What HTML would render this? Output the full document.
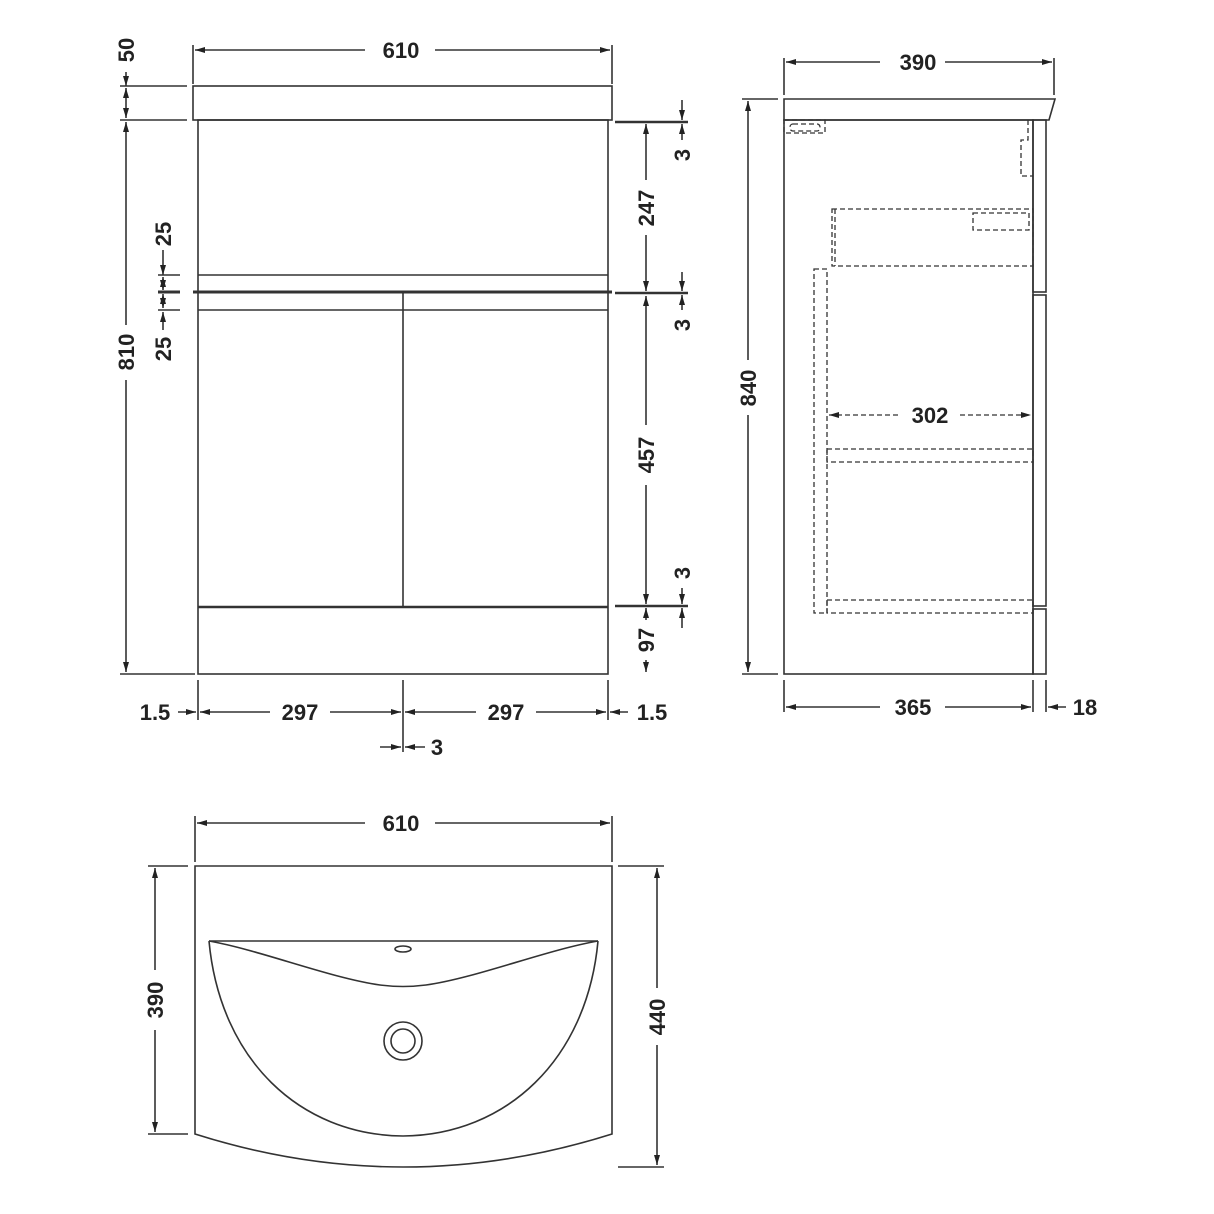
<!DOCTYPE html>
<html><head><meta charset="utf-8"><style>html,body{margin:0;padding:0;background:#fff}svg{display:block}text{font-family:"Liberation Sans",sans-serif;font-weight:bold;font-size:22px;fill:#222}</style></head>
<body>
<svg width="1214" height="1214" viewBox="0 0 1214 1214" xmlns="http://www.w3.org/2000/svg">
<defs>
<marker id="a" viewBox="0 0 10 6" refX="10" refY="3" markerWidth="10" markerHeight="6" orient="auto-start-reverse" markerUnits="userSpaceOnUse"><path d="M0,0L10,3L0,6z" fill="#222"/></marker>
</defs>
<g stroke="#333" stroke-width="1.6" fill="none">
<!-- front view -->
<rect x="193" y="86" width="419" height="34"/>
<rect x="198" y="120" width="410" height="554"/>
<line x1="198" y1="275" x2="608" y2="275"/>
<line x1="193" y1="292" x2="612" y2="292" stroke-width="3"/>
<line x1="198" y1="310" x2="608" y2="310"/>
<line x1="403" y1="293" x2="403" y2="607"/>
<line x1="198" y1="607" x2="608" y2="607" stroke-width="2.5"/>
<!-- front dims -->
<line x1="193" y1="45" x2="193" y2="84"/><line x1="612" y1="45" x2="612" y2="84"/>
<line x1="195" y1="50" x2="365" y2="50" marker-start="url(#a)"/><line x1="435" y1="50" x2="610" y2="50" marker-end="url(#a)"/>
<line x1="120" y1="86" x2="187" y2="86"/><line x1="120" y1="120" x2="187" y2="120"/><line x1="120" y1="674" x2="195" y2="674"/>
<line x1="126" y1="72" x2="126" y2="86" marker-end="url(#a)"/><line x1="126" y1="88" x2="126" y2="118" marker-start="url(#a)" marker-end="url(#a)"/>
<line x1="126" y1="122" x2="126" y2="325" marker-start="url(#a)"/><line x1="126" y1="380" x2="126" y2="672" marker-end="url(#a)"/>
<line x1="158" y1="275" x2="180" y2="275"/><line x1="158" y1="292" x2="180" y2="292" stroke-width="3"/><line x1="158" y1="310" x2="180" y2="310"/>
<line x1="163" y1="250" x2="163" y2="275" marker-end="url(#a)"/><line x1="163" y1="277" x2="163" y2="290" marker-start="url(#a)" marker-end="url(#a)"/><line x1="163" y1="294" x2="163" y2="308" marker-start="url(#a)" marker-end="url(#a)"/><line x1="163" y1="312" x2="163" y2="330" marker-start="url(#a)"/>
<line x1="615" y1="122" x2="688" y2="122" stroke-width="2.5"/><line x1="615" y1="293" x2="688" y2="293" stroke-width="2.5"/><line x1="615" y1="606" x2="688" y2="606" stroke-width="2.5"/>
<line x1="646" y1="124" x2="646" y2="180" marker-start="url(#a)"/><line x1="646" y1="235" x2="646" y2="291" marker-end="url(#a)"/>
<line x1="646" y1="296" x2="646" y2="425" marker-start="url(#a)"/><line x1="646" y1="485" x2="646" y2="604" marker-end="url(#a)"/>
<line x1="646" y1="608" x2="646" y2="620" marker-start="url(#a)"/><line x1="646" y1="660" x2="646" y2="672" marker-end="url(#a)"/>
<line x1="682" y1="100" x2="682" y2="120" marker-end="url(#a)"/><line x1="682" y1="124" x2="682" y2="140" marker-start="url(#a)"/>
<line x1="682" y1="272" x2="682" y2="291" marker-end="url(#a)"/><line x1="682" y1="295" x2="682" y2="310" marker-start="url(#a)"/>
<line x1="682" y1="588" x2="682" y2="604" marker-end="url(#a)"/><line x1="682" y1="608" x2="682" y2="628" marker-start="url(#a)"/>
<line x1="198" y1="680" x2="198" y2="720"/><line x1="403" y1="680" x2="403" y2="752"/><line x1="608" y1="680" x2="608" y2="720"/>
<line x1="178" y1="712" x2="196" y2="712" marker-end="url(#a)"/><line x1="200" y1="712" x2="270" y2="712" marker-start="url(#a)"/><line x1="330" y1="712" x2="401" y2="712" marker-end="url(#a)"/>
<line x1="405" y1="712" x2="476" y2="712" marker-start="url(#a)"/><line x1="536" y1="712" x2="606" y2="712" marker-end="url(#a)"/><line x1="610" y1="712" x2="628" y2="712" marker-start="url(#a)"/>
<line x1="380" y1="747" x2="401" y2="747" marker-end="url(#a)"/><line x1="405" y1="747" x2="425" y2="747" marker-start="url(#a)"/>
<!-- side view -->
<path d="M784,99 L1055,99 L1049,120 L784,120 Z"/>
<rect x="784" y="120" width="249" height="554"/>
<rect x="1033" y="120" width="13" height="172"/><rect x="1033" y="295" width="13" height="311"/><rect x="1033" y="609" width="13" height="65"/>
<g stroke-dasharray="5,3" stroke-width="1.3">
<rect x="784" y="120" width="41" height="13"/><rect x="790" y="124" width="30" height="7" rx="3"/>
<path d="M1028,120 L1028,140 L1021,140 L1021,176 L1033,176"/>
<rect x="832" y="209" width="201" height="57"/><line x1="835" y1="209" x2="835" y2="266"/>
<rect x="973" y="213" width="56" height="17"/>
<rect x="814" y="269" width="13" height="344"/>
<rect x="827" y="449" width="206" height="13"/>
<rect x="827" y="600" width="206" height="13"/>
<line x1="829" y1="415" x2="900" y2="415" marker-start="url(#a)"/><line x1="960" y1="415" x2="1031" y2="415" marker-end="url(#a)"/>
</g>
<line x1="784" y1="58" x2="784" y2="95"/><line x1="1054" y1="58" x2="1054" y2="95"/>
<line x1="786" y1="62" x2="880" y2="62" marker-start="url(#a)"/><line x1="945" y1="62" x2="1052" y2="62" marker-end="url(#a)"/>
<line x1="742" y1="99" x2="778" y2="99"/><line x1="742" y1="674" x2="778" y2="674"/>
<line x1="748" y1="101" x2="748" y2="360" marker-start="url(#a)"/><line x1="748" y1="415" x2="748" y2="672" marker-end="url(#a)"/>
<line x1="784" y1="680" x2="784" y2="712"/><line x1="1033" y1="680" x2="1033" y2="712"/><line x1="1046" y1="680" x2="1046" y2="712"/>
<line x1="786" y1="707" x2="880" y2="707" marker-start="url(#a)"/><line x1="945" y1="707" x2="1031" y2="707" marker-end="url(#a)"/>
<line x1="1066" y1="707" x2="1048" y2="707" marker-end="url(#a)"/>
<!-- plan view -->
<path d="M195,866 L612,866 L612,1134 Q403,1200 195,1134 Z"/>
<path d="M209,941 L598,941"/>
<path d="M209,941 C260,950 330,978 380,985 Q403,988 426,985 C476,978 546,950 598,941"/>
<path d="M209,941 C220,1060 300,1135 403,1136 C506,1135 587,1060 598,941"/>
<circle cx="403" cy="1041" r="19"/><circle cx="403" cy="1041" r="12"/>
<ellipse cx="403" cy="949" rx="8" ry="3"/>
<line x1="195" y1="816" x2="195" y2="862"/><line x1="612" y1="816" x2="612" y2="862"/>
<line x1="197" y1="823" x2="365" y2="823" marker-start="url(#a)"/><line x1="435" y1="823" x2="610" y2="823" marker-end="url(#a)"/>
<line x1="148" y1="866" x2="188" y2="866"/><line x1="148" y1="1134" x2="188" y2="1134"/>
<line x1="155" y1="868" x2="155" y2="970" marker-start="url(#a)"/><line x1="155" y1="1030" x2="155" y2="1132" marker-end="url(#a)"/>
<line x1="618" y1="866" x2="664" y2="866"/><line x1="618" y1="1167" x2="664" y2="1167"/>
<line x1="657" y1="868" x2="657" y2="988" marker-start="url(#a)"/><line x1="657" y1="1045" x2="657" y2="1165" marker-end="url(#a)"/>
</g>
<text x="401" y="58" text-anchor="middle">610</text>
<text transform="translate(134,50) rotate(-90)" text-anchor="middle">50</text>
<text transform="translate(134,352) rotate(-90)" text-anchor="middle">810</text>
<text transform="translate(171,234) rotate(-90)" text-anchor="middle">25</text>
<text transform="translate(171,349) rotate(-90)" text-anchor="middle">25</text>
<text transform="translate(654,208) rotate(-90)" text-anchor="middle">247</text>
<text transform="translate(654,455) rotate(-90)" text-anchor="middle">457</text>
<text transform="translate(654,640) rotate(-90)" text-anchor="middle">97</text>
<text transform="translate(690,155) rotate(-90)" text-anchor="middle">3</text>
<text transform="translate(690,325) rotate(-90)" text-anchor="middle">3</text>
<text transform="translate(690,573) rotate(-90)" text-anchor="middle">3</text>
<text x="155" y="720" text-anchor="middle">1.5</text>
<text x="300" y="720" text-anchor="middle">297</text>
<text x="506" y="720" text-anchor="middle">297</text>
<text x="652" y="720" text-anchor="middle">1.5</text>
<text x="437" y="755" text-anchor="middle">3</text>
<text x="918" y="70" text-anchor="middle">390</text>
<text transform="translate(756,388) rotate(-90)" text-anchor="middle">840</text>
<text x="930" y="423" text-anchor="middle">302</text>
<text x="913" y="715" text-anchor="middle">365</text>
<text x="1085" y="715" text-anchor="middle">18</text>
<text x="401" y="831" text-anchor="middle">610</text>
<text transform="translate(163,1000) rotate(-90)" text-anchor="middle">390</text>
<text transform="translate(665,1017) rotate(-90)" text-anchor="middle">440</text>
</svg>
</body></html>
